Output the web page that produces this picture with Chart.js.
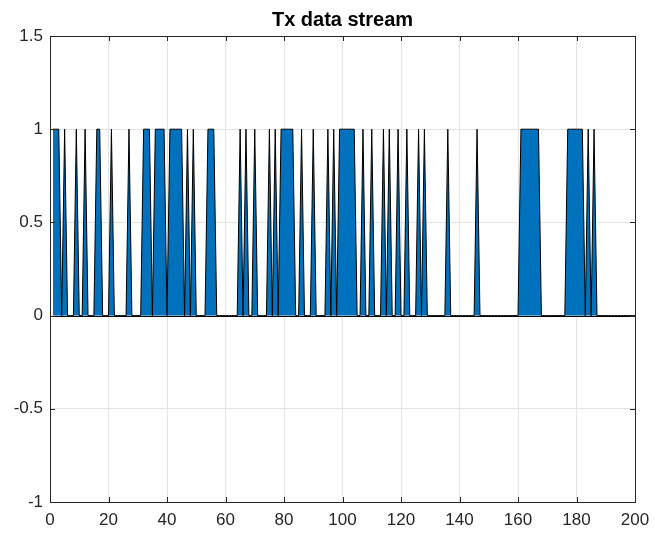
<!DOCTYPE html>
<html>
<head>
<meta charset="utf-8">
<script src="https://cdn.jsdelivr.net/npm/chart.js@4/dist/chart.umd.min.js"></script>
<style>
html,body{margin:0;padding:0;background:#fff;}
#wrap{width:654px;height:534px;}
</style>
</head>
<body>
<div id="wrap"><canvas id="c" width="654" height="534"></canvas></div>
<script>
// Transmitted bit stream (sample index 1..200)
const txBits = [
  1,1,1,0,1,0,0,0,1,0,
  0,1,0,0,0,1,1,0,0,0,
  1,0,0,0,0,0,1,0,0,0,
  0,1,1,1,0,1,1,1,1,0,
  1,1,1,1,1,0,1,0,1,0,
  0,0,0,1,1,1,0,0,0,0,
  0,0,0,0,1,0,1,0,0,1,
  0,0,0,0,1,0,1,0,1,1,
  1,1,1,0,0,1,0,0,0,1,
  0,0,0,0,1,0,1,0,1,1,
  1,1,1,1,0,0,1,0,0,1,
  0,0,0,1,0,1,0,0,1,0,
  0,1,0,0,0,1,0,1,0,0,
  0,0,0,0,0,1,0,0,0,0,
  0,0,0,0,0,1,0,0,0,0,
  0,0,0,0,0,0,0,0,0,0,
  1,1,1,1,1,1,1,0,0,0,
  0,0,0,0,0,0,1,1,1,1,
  1,1,0,1,0,1,0,0,0,0,
  0,0,0,0,0,0,0,0,0,0
];
const xTicks = [0,20,40,60,80,100,120,140,160,180,200];
const yTicks = [-1,-0.5,0,0.5,1,1.5];
const yTickLabels = ['-1','-0.5','0','0.5','1','1.5'];
const titleText = 'Tx data stream';

const points = txBits.map((v,i)=>({x:i+1,y:v}));

const AX = '#262626';
const GRID = '#e3e3e3';
const FONT = '"Liberation Sans", Arial, sans-serif';

const boxPlugin = {
  id:'boxPlugin',
  afterDatasetsDraw(chart){
    const {ctx, chartArea:a, scales:{x,y}} = chart;
    ctx.save();
    ctx.strokeStyle = '#000';
    ctx.lineWidth = 1;
    const y0 = Math.round(y.getPixelForValue(0))+0.5;
    ctx.beginPath(); ctx.moveTo(a.left,y0); ctx.lineTo(a.right,y0); ctx.stroke();
    ctx.strokeStyle = AX;
    ctx.strokeRect(Math.round(a.left)+0.5, Math.round(a.top)+0.5, Math.round(a.right-a.left), Math.round(a.bottom-a.top));
    const L = 5;
    ctx.beginPath();
    xTicks.forEach(v=>{
      const px = Math.round(x.getPixelForValue(v))+0.5;
      ctx.moveTo(px,a.bottom); ctx.lineTo(px,a.bottom-L);
      ctx.moveTo(px,a.top); ctx.lineTo(px,a.top+L);
    });
    yTicks.forEach(v=>{
      const py = Math.round(y.getPixelForValue(v))+0.5;
      ctx.moveTo(a.left,py); ctx.lineTo(a.left+L,py);
      ctx.moveTo(a.right,py); ctx.lineTo(a.right-L,py);
    });
    ctx.stroke();
    ctx.restore();
  }
};

new Chart(document.getElementById('c'), {
  type:'line',
  data:{datasets:[{
    data:points,
    fill:'origin',
    backgroundColor:'#0072BD',
    borderColor:'#000',
    borderWidth:1,
    pointRadius:0,
    tension:0
  }]},
  options:{
    responsive:false,
    animation:false,
    layout:{padding:{left:0,right:19,top:0,bottom:0}},
    plugins:{
      legend:{display:false},
      tooltip:{enabled:false},
      title:{
        display:true,
        text:titleText,
        fullSize:false,
        color:'#000',
        font:{family:FONT, size:20, weight:'bold'},
        padding:{top:8,bottom:4}
      }
    },
    scales:{
      x:{
        type:'linear',
        min:0,max:200,
        afterBuildTicks(s){ s.ticks = xTicks.map(v=>({value:v})); },
        afterFit(s){ s.height = 32; s.paddingLeft = 0; s.paddingRight = 0; },
        grid:{color:GRID, drawTicks:false},
        border:{display:false},
        ticks:{
          color:AX, padding:8, maxRotation:0,
          font:{family:FONT, size:17},
          callback:(v)=>String(v)
        }
      },
      y:{
        type:'linear',
        min:-1,max:1.5,
        afterBuildTicks(s){ s.ticks = yTicks.map(v=>({value:v})); },
        afterFit(s){ s.width = 50; s.paddingTop = 0; s.paddingBottom = 0; },
        grid:{color:GRID, drawTicks:false},
        border:{display:false},
        ticks:{
          color:AX, padding:7,
          font:{family:FONT, size:17},
          callback:(v)=>{ const i = yTicks.indexOf(v); return i>=0 ? yTickLabels[i] : ''; }
        }
      }
    }
  },
  plugins:[boxPlugin]
});
</script>
</body>
</html>
